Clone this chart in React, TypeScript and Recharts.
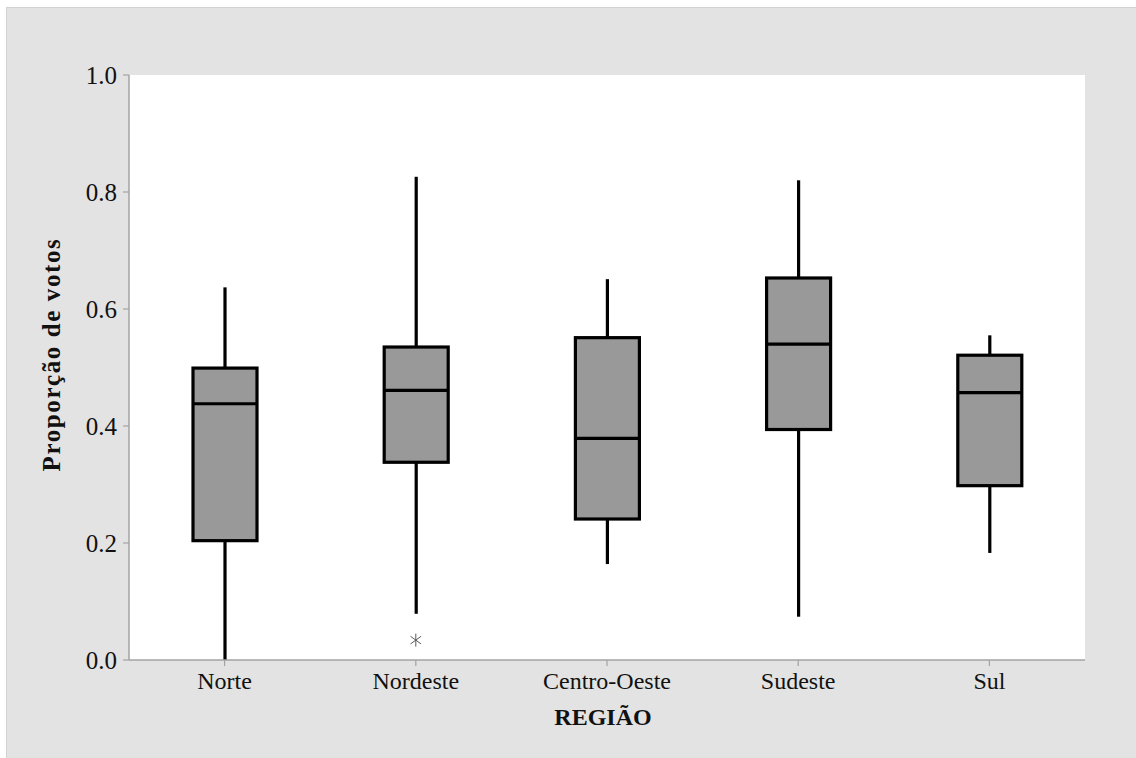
import React from 'react';
import { ComposedChart, Bar, Scatter, XAxis, YAxis, CartesianGrid } from 'recharts';

const regions = ['Norte', 'Nordeste', 'Centro-Oeste', 'Sudeste', 'Sul'];
const whiskerLow = [0.0, 0.079, 0.164, 0.074, 0.183];
const q1 = [0.204, 0.338, 0.241, 0.394, 0.298];
const median = [0.438, 0.461, 0.379, 0.54, 0.457];
const q3 = [0.499, 0.535, 0.551, 0.653, 0.521];
const whiskerHigh = [0.637, 0.826, 0.651, 0.82, 0.555];
const outliers: (number | null)[] = [null, 0.034, null, null, null];
const yTicks = [0, 0.2, 0.4, 0.6, 0.8, 1.0];

const data = regions.map((r, i) => ({
  region: r,
  low: whiskerLow[i],
  q1: q1[i],
  median: median[i],
  q3: q3[i],
  high: whiskerHigh[i],
  range: [whiskerLow[i], whiskerHigh[i]],
  outlier: outliers[i],
}));

const FONT = '"Liberation Serif", "Times New Roman", serif';
const AXIS_GRAY = '#a3a3a3';

const BoxShape = (props: any) => {
  const { x, y, width, height, payload } = props;
  if (!payload) return null;
  const { low, high } = payload;
  const px = (v: number) => y + (height * (high - v)) / (high - low);
  const cx = x + width / 2;
  const yQ1 = px(payload.q1);
  const yQ3 = px(payload.q3);
  const yMed = px(payload.median);
  const sw = 3.2;
  return (
    <g>
      <line x1={cx} x2={cx} y1={px(high)} y2={yQ3} stroke="#000" strokeWidth={sw} />
      <line x1={cx} x2={cx} y1={yQ1} y2={px(low)} stroke="#000" strokeWidth={sw} />
      <rect x={x} y={yQ3} width={width} height={yQ1 - yQ3} fill="#999999" stroke="#000" strokeWidth={sw} />
      <line x1={x} x2={x + width} y1={yMed} y2={yMed} stroke="#000" strokeWidth={sw} />
    </g>
  );
};

const Asterisk = (props: any) => {
  const { cx, cy, payload } = props;
  if (!payload || payload.outlier == null) return null;
  if (!Number.isFinite(cx) || !Number.isFinite(cy)) return null;
  const r = 6.5;
  const dx = r * Math.cos(Math.PI / 5);
  const dy = r * Math.sin(Math.PI / 5);
  return (
    <g stroke="#5a5a5a" strokeWidth={1}>
      <line x1={cx} x2={cx} y1={cy - r} y2={cy + r} />
      <line x1={cx - dx} x2={cx + dx} y1={cy - dy} y2={cy + dy} />
      <line x1={cx - dx} x2={cx + dx} y1={cy + dy} y2={cy - dy} />
    </g>
  );
};

const XTick = (props: any) => {
  const { x, y, payload } = props;
  return (
    <text x={x} y={y} dy={17} textAnchor="middle" fontFamily={FONT} fontSize={24} fill="#111">
      {payload.value}
    </text>
  );
};

const YTick = (props: any) => {
  const { x, y, payload } = props;
  return (
    <text x={x} y={y} dy={8.5} textAnchor="end" fontFamily={FONT} fontSize={25} fill="#111">
      {Number(payload.value).toFixed(1)}
    </text>
  );
};

const YLabel = (props: any) => {
  const vb = props.viewBox || { x: 0, y: 75, width: 129, height: 585 };
  const cx = vb.x + 51;
  const cy = vb.y + vb.height / 2 - 13;
  return (
    <text
      x={cx}
      y={cy}
      transform={`rotate(-90 ${cx} ${cy})`}
      textAnchor="middle"
      dominantBaseline="central"
      fontFamily={FONT}
      fontWeight="bold"
      fontSize={25}
      letterSpacing={1.6}
      fill="#111"
    >
      Proporção de votos
    </text>
  );
};

const XLabel = (props: any) => {
  const vb = props.viewBox || { x: 129, y: 660, width: 956, height: 98 };
  const cx = vb.x + vb.width / 2 - 4;
  const cy = vb.y + 65;
  return (
    <text x={cx} y={cy} textAnchor="middle" fontFamily={FONT} fontWeight="bold" fontSize={24} fill="#111">
      REGIÃO
    </text>
  );
};

export default function App() {
  return (
    <div style={{ position: 'absolute', left: 0, top: 0, width: 1136, height: 758, background: '#fff' }}>
      <div
        style={{
          position: 'absolute',
          left: 6,
          top: 7,
          width: 1130,
          height: 751,
          background: '#e3e3e3',
          borderLeft: '1px solid #d2d2d2',
          borderTop: '1px solid #d2d2d2',
          boxSizing: 'border-box',
        }}
      />
      <div style={{ position: 'absolute', left: 0, top: 0 }}>
        <ComposedChart
          width={1136}
          height={758}
          data={data}
          margin={{ top: 75, right: 51, left: 0, bottom: 0 }}
          style={{ fontFamily: FONT }}
        >
          <CartesianGrid horizontal={false} vertical={false} fill="#ffffff" />
          <XAxis
            dataKey="region"
            type="category"
            height={98}
            tickSize={6}
            tickMargin={6}
            stroke={AXIS_GRAY}
            axisLine={{ stroke: AXIS_GRAY, strokeWidth: 1.5 }}
            tickLine={{ stroke: AXIS_GRAY, strokeWidth: 1.2 }}
            tick={<XTick />}
            label={<XLabel />}
          />
          <XAxis
            xAxisId="top"
            dataKey="region"
            type="category"
            orientation="top"
            height={0}
            tick={false}
            tickLine={false}
            axisLine={{ stroke: AXIS_GRAY, strokeWidth: 1.5 }}
          />
          <YAxis
            type="number"
            domain={[0, 1]}
            ticks={yTicks}
            width={129}
            tickSize={6}
            tickMargin={6}
            axisLine={{ stroke: AXIS_GRAY, strokeWidth: 1.5 }}
            tickLine={{ stroke: AXIS_GRAY, strokeWidth: 1.2 }}
            tick={<YTick />}
            label={<YLabel />}
          />
          <YAxis
            yAxisId="right"
            type="number"
            orientation="right"
            domain={[0, 1]}
            width={0}
            tick={false}
            tickLine={false}
            axisLine={{ stroke: AXIS_GRAY, strokeWidth: 1.5 }}
          />
          <Bar dataKey="range" barSize={64} shape={<BoxShape />} isAnimationActive={false} />
          <Scatter dataKey="outlier" shape={<Asterisk />} isAnimationActive={false} />
        </ComposedChart>
      </div>
    </div>
  );
}
